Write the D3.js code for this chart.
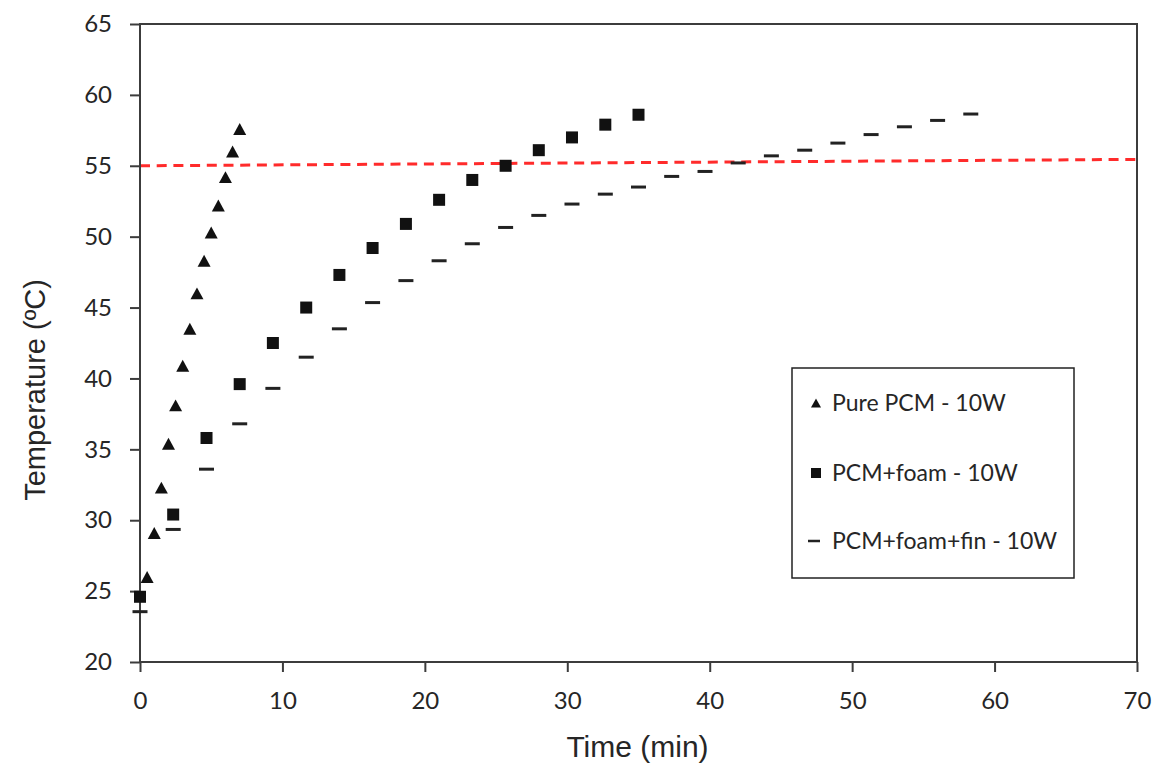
<!DOCTYPE html>
<html><head><meta charset="utf-8">
<script src="https://cdn.jsdelivr.net/npm/d3@7"></script>
<style>body{margin:0;background:#fff}</style>
</head><body><svg id="c" width="1159" height="769"></svg>
<script>
// ---- data ----
const pureTime = [0.5, 1, 1.5, 2, 2.5, 3, 3.5, 4, 4.5, 5, 5.5, 6, 6.5, 7];
const pureTemp = [26.0, 29.1, 32.3, 35.4, 38.1, 40.9, 43.5, 46.0, 48.3, 50.3, 52.2, 54.2, 56.0, 57.6];

const foamTime = [0, 2.33, 4.67, 7, 9.33, 11.67, 14, 16.33, 18.67, 21, 23.33, 25.67, 28, 30.33, 32.67, 35];
const foamTemp = [24.6, 30.4, 35.8, 39.6, 42.5, 45.0, 47.3, 49.2, 50.9, 52.6, 54.0, 55.0, 56.1, 57.0, 57.9, 58.6];

const finTime = [0, 2.33, 4.67, 7, 9.33, 11.67, 14, 16.33, 18.67, 21, 23.33, 25.67, 28, 30.33, 32.67, 35,
                 37.33, 39.67, 42, 44.33, 46.67, 49, 51.33, 53.67, 56, 58.33];
const finTemp = [23.55, 29.35, 33.6, 36.8, 39.3, 41.5, 43.5, 45.35, 46.9, 48.3, 49.5, 50.65, 51.5, 52.3, 53.0, 53.5,
                 54.25, 54.6, 55.2, 55.7, 56.1, 56.6, 57.2, 57.75, 58.2, 58.65];

const refTime = [0, 70];
const refTemp = [55, 55.45];

const xTicks = [0, 10, 20, 30, 40, 50, 60, 70];
const yTicks = [20, 25, 30, 35, 40, 45, 50, 55, 60, 65];
const seriesNames = ["Pure PCM - 10W", "PCM+foam - 10W", "PCM+foam+fin - 10W"];
const xTitle = "Time (min)";
const yTitle = "Temperature (ºC)";

// ---- drawing ----
const svg = d3.select("#c");
const x = d3.scaleLinear().domain([0, 70]).range([140, 1137]);
const y = d3.scaleLinear().domain([20, 65]).range([662, 24]);
const axisColor = "#3c3c3c";
const tickFont = "Lato, 'Open Sans', sans-serif";

// reference line
svg.append("path")
  .datum(refTime.map((t, i) => [t, refTemp[i]]))
  .attr("d", d3.line().x(d => x(d[0])).y(d => y(d[1])))
  .attr("fill", "none").attr("stroke", "#ff2b2b").attr("stroke-width", 3)
  .attr("stroke-dasharray", "10,6.7");

// axes
const gx = svg.append("g").attr("transform", `translate(0,${y(20)})`)
  .call(d3.axisBottom(x).tickValues(xTicks).tickSize(10).tickPadding(20).tickFormat(d3.format("d")));
const gy = svg.append("g").attr("transform", `translate(${x(0)},0)`)
  .call(d3.axisLeft(y).tickValues(yTicks).tickSize(10).tickPadding(18).tickFormat(d3.format("d")));
[gx, gy].forEach(g => {
  g.select(".domain").remove();
  g.selectAll("line").attr("stroke", axisColor).attr("stroke-width", 2);
  g.selectAll("text").attr("fill", "#262626").style("font-family", tickFont).style("font-size", "24px");
});

// frame
svg.append("rect")
  .attr("x", x(0)).attr("y", y(65))
  .attr("width", x(70) - x(0)).attr("height", y(20) - y(65))
  .attr("fill", "none").attr("stroke", axisColor).attr("stroke-width", 2);

// markers
const markColor = "#111";
function tri(s) { const h = s * 0.92; return `M0,${-h/2}L${s/2},${h/2}L${-s/2},${h/2}Z`; }

svg.append("g").selectAll("path").data(pureTime.map((t, i) => [t, pureTemp[i]])).join("path")
  .attr("d", tri(13)).attr("fill", markColor)
  .attr("transform", d => `translate(${x(d[0])},${y(d[1])})`);

svg.append("g").selectAll("rect").data(foamTime.map((t, i) => [t, foamTemp[i]])).join("rect")
  .attr("x", d => x(d[0]) - 6).attr("y", d => y(d[1]) - 6)
  .attr("width", 12).attr("height", 12).attr("fill", markColor);

svg.append("g").selectAll("line").data(finTime.map((t, i) => [t, finTemp[i]])).join("line")
  .attr("x1", d => x(d[0]) - 7.5).attr("x2", d => x(d[0]) + 7.5)
  .attr("y1", d => y(d[1])).attr("y2", d => y(d[1]))
  .attr("stroke", "#222").attr("stroke-width", 3);

// axis titles
svg.append("text").attr("x", (x(0) + x(70)) / 2 - 1).attr("y", 757)
  .attr("text-anchor", "middle").style("font-family", "'Liberation Sans', Arial, sans-serif")
  .style("font-size", "30px").attr("fill", "#262626").text(xTitle);
svg.append("text").attr("transform", `translate(45,${(y(20) + y(65)) / 2 + 47}) rotate(-90)`)
  .attr("text-anchor", "middle").style("font-family", "'Liberation Sans', Arial, sans-serif")
  .style("font-size", "29px").attr("fill", "#262626").text(yTitle);

// legend
const lg = svg.append("g");
lg.append("rect").attr("x", 792).attr("y", 368).attr("width", 282).attr("height", 210)
  .attr("fill", "#fff").attr("stroke", "#222").attr("stroke-width", 1.5);
const rowsY = [403, 473, 541];
lg.append("path").attr("d", tri(10)).attr("fill", markColor).attr("transform", `translate(816,${rowsY[0]})`);
lg.append("rect").attr("x", 811).attr("y", rowsY[1] - 5).attr("width", 10).attr("height", 10).attr("fill", markColor);
lg.append("line").attr("x1", 808).attr("x2", 820).attr("y1", rowsY[2]).attr("y2", rowsY[2])
  .attr("stroke", "#222").attr("stroke-width", 2.5);
seriesNames.forEach((n, i) => {
  lg.append("text").attr("x", 832).attr("y", rowsY[i]).attr("dy", "0.36em")
    .style("font-family", tickFont).style("font-size", "23px").attr("fill", "#262626").text(n);
});
</script>
</body></html>
